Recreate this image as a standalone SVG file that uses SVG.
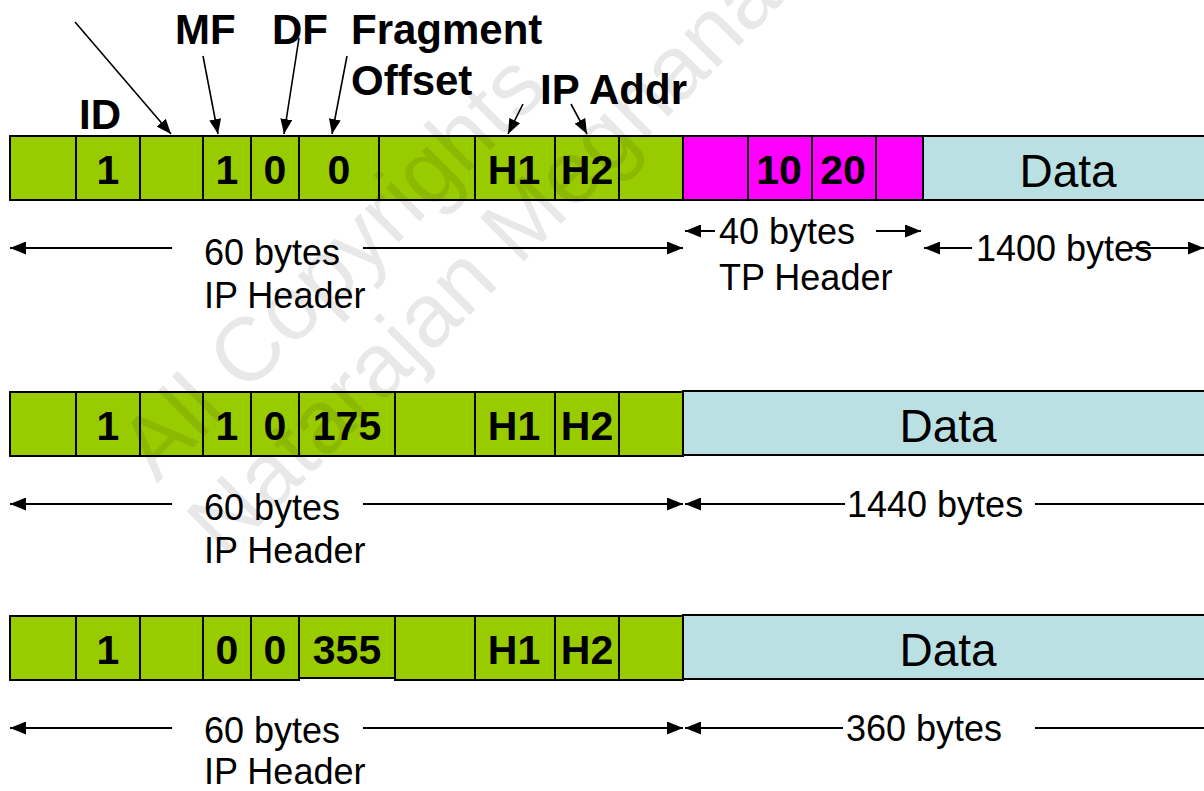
<svg xmlns="http://www.w3.org/2000/svg" width="1204" height="791" viewBox="0 0 1204 791">
  <defs>
    <style>
      .cell { stroke: #000; stroke-width: 2; }
      .g { fill: #99cc00; }
      .m { fill: #ff00ff; }
      .d { fill: #bbe0e3; }
      .v { font-family: "Liberation Sans", Arial, sans-serif; font-weight: bold; font-size: 41px; fill: #000; text-anchor: middle; }
      .lbl { font-family: "Liberation Sans", Arial, sans-serif; font-weight: bold; font-size: 42px; fill: #000; }
      .dim { font-family: "Liberation Sans", Arial, sans-serif; font-size: 36px; fill: #000; }
      .data { font-family: "Liberation Sans", Arial, sans-serif; font-size: 46px; fill: #000; text-anchor: middle; }
      .ptr { stroke: #000; stroke-width: 1.6; fill: none; marker-end: url(#head); }
      .dl { stroke: #000; stroke-width: 2; fill: none; }
      .da { stroke: #000; stroke-width: 2; fill: none; marker-end: url(#dhead); }
      .wm { font-family: "Liberation Sans", Arial, sans-serif; font-size: 90px; fill: #000; fill-opacity: 0.09; }
    </style>
    <marker id="head" markerUnits="userSpaceOnUse" viewBox="0 0 15 12" markerWidth="15" markerHeight="12" refX="15" refY="6" orient="auto">
      <path d="M0,0 L15,6 L0,12 z" fill="#000"/>
    </marker>
    <marker id="dhead" markerUnits="userSpaceOnUse" viewBox="0 0 16 13" markerWidth="16" markerHeight="13" refX="16" refY="6.5" orient="auto">
      <path d="M0,0 L16,6.5 L0,13 z" fill="#000"/>
    </marker>
  </defs>

  <rect width="1204" height="791" fill="#fff"/>

  <!-- field labels above the first packet -->
  <g id="labels">
    <text class="lbl" x="79" y="129">ID</text>
    <text class="lbl" x="175" y="44">MF</text>
    <text class="lbl" x="272" y="44">DF</text>
    <text class="lbl" x="351" y="44">Fragment</text>
    <text class="lbl" x="351" y="95">Offset</text>
    <text class="lbl" x="540" y="104">IP Addr</text>
  </g>

  <!-- packet 1: IP header + TP header + data -->
  <g id="packet1">
    <rect class="cell g" x="10" y="136" width="66" height="64"/>
    <rect class="cell g" x="76" y="136" width="64" height="64"/>
    <rect class="cell g" x="140" y="136" width="63" height="64"/>
    <rect class="cell g" x="203" y="136" width="48" height="64"/>
    <rect class="cell g" x="251" y="136" width="48" height="64"/>
    <rect class="cell g" x="299" y="136" width="80" height="64"/>
    <rect class="cell g" x="379" y="136" width="96" height="64"/>
    <rect class="cell g" x="475" y="136" width="80" height="64"/>
    <rect class="cell g" x="555" y="136" width="64" height="64"/>
    <rect class="cell g" x="619" y="136" width="64" height="64"/>
    <rect class="cell m" x="683" y="136" width="65" height="64"/>
    <rect class="cell m" x="748" y="136" width="64" height="64"/>
    <rect class="cell m" x="812" y="136" width="64" height="64"/>
    <rect class="cell m" x="876" y="136" width="47" height="64"/>
    <rect class="cell d" x="923" y="136" width="300" height="64"/>
    <text class="v" x="108" y="184">1</text>
    <text class="v" x="227" y="184">1</text>
    <text class="v" x="275" y="184">0</text>
    <text class="v" x="339" y="184">0</text>
    <text class="v" x="514" y="184">H1</text>
    <text class="v" x="587" y="184">H2</text>
    <text class="v" x="779" y="184">10</text>
    <text class="v" x="843" y="184">20</text>
    <text class="data" x="1068" y="187">Data</text>
  </g>

  <!-- packet 2: first fragment -->
  <g id="packet2">
    <rect class="cell g" x="10" y="392" width="66" height="64"/>
    <rect class="cell g" x="76" y="392" width="64" height="64"/>
    <rect class="cell g" x="140" y="392" width="63" height="64"/>
    <rect class="cell g" x="203" y="392" width="48" height="64"/>
    <rect class="cell g" x="251" y="392" width="48" height="64"/>
    <rect class="cell g" x="299" y="392" width="96" height="64"/>
    <rect class="cell g" x="395" y="392" width="80" height="64"/>
    <rect class="cell g" x="475" y="392" width="80" height="64"/>
    <rect class="cell g" x="555" y="392" width="64" height="64"/>
    <rect class="cell g" x="619" y="392" width="64" height="64"/>
    <rect class="cell d" x="683" y="391" width="540" height="64"/>
    <text class="v" x="108" y="440">1</text>
    <text class="v" x="227" y="440">1</text>
    <text class="v" x="275" y="440">0</text>
    <text class="v" x="347" y="440">175</text>
    <text class="v" x="514" y="440">H1</text>
    <text class="v" x="587" y="440">H2</text>
    <text class="data" x="948" y="442">Data</text>
  </g>

  <!-- packet 3: last fragment -->
  <g id="packet3">
    <rect class="cell g" x="10" y="616" width="66" height="64"/>
    <rect class="cell g" x="76" y="616" width="64" height="64"/>
    <rect class="cell g" x="140" y="616" width="63" height="64"/>
    <rect class="cell g" x="203" y="616" width="48" height="64"/>
    <rect class="cell g" x="251" y="616" width="48" height="64"/>
    <rect class="cell g" x="299" y="616" width="96" height="62"/>
    <rect class="cell g" x="395" y="616" width="80" height="64"/>
    <rect class="cell g" x="475" y="616" width="80" height="64"/>
    <rect class="cell g" x="555" y="616" width="64" height="64"/>
    <rect class="cell g" x="619" y="616" width="64" height="64"/>
    <rect class="cell d" x="683" y="615" width="540" height="64"/>
    <text class="v" x="108" y="664">1</text>
    <text class="v" x="227" y="664">0</text>
    <text class="v" x="275" y="664">0</text>
    <text class="v" x="347" y="664">355</text>
    <text class="v" x="514" y="664">H1</text>
    <text class="v" x="587" y="664">H2</text>
    <text class="data" x="948" y="666">Data</text>
  </g>

  <!-- size captions -->
  <g id="sizes">
    <text class="dim" x="204" y="265">60 bytes</text>
    <text class="dim" x="204" y="308">IP Header</text>
    <text class="dim" x="719" y="244">40 bytes</text>
    <text class="dim" x="719" y="290">TP Header</text>
    <text class="dim" x="976" y="261">1400 bytes</text>
    <text class="dim" x="204" y="520">60 bytes</text>
    <text class="dim" x="204" y="563">IP Header</text>
    <text class="dim" x="847" y="517">1440 bytes</text>
    <text class="dim" x="204" y="743">60 bytes</text>
    <text class="dim" x="204" y="784">IP Header</text>
    <text class="dim" x="846" y="741">360 bytes</text>
  </g>

  <!-- connectors: field pointers and size extents -->
  <g id="connectors">
    <line class="ptr" x1="75" y1="22" x2="171" y2="134"/>
    <line class="ptr" x1="203" y1="56" x2="218" y2="134"/>
    <line class="ptr" x1="299" y1="38" x2="284" y2="134"/>
    <line class="ptr" x1="347" y1="56" x2="332" y2="134"/>
    <line class="ptr" x1="523" y1="104" x2="508" y2="134"/>
    <line class="ptr" x1="571" y1="104" x2="587" y2="134"/>

    <line class="da" x1="172" y1="248" x2="10" y2="248"/>
    <line class="da" x1="363" y1="248" x2="683" y2="248"/>
    <line class="da" x1="715" y1="231" x2="685" y2="231"/>
    <line class="da" x1="876" y1="231" x2="921" y2="231"/>
    <line class="da" x1="972" y1="248" x2="924" y2="248"/>
    <line class="da" x1="1130" y1="248" x2="1204" y2="248"/>

    <line class="da" x1="172" y1="504" x2="10" y2="504"/>
    <line class="da" x1="363" y1="504" x2="683" y2="504"/>
    <line class="da" x1="845" y1="504" x2="685" y2="504"/>
    <line class="dl" x1="1035" y1="504" x2="1204" y2="504"/>

    <line class="da" x1="172" y1="728" x2="10" y2="728"/>
    <line class="da" x1="363" y1="728" x2="683" y2="728"/>
    <line class="da" x1="843" y1="728" x2="685" y2="728"/>
    <line class="dl" x1="1035" y1="728" x2="1204" y2="728"/>
  </g>

  <!-- copyright watermark -->
  <g id="watermark" transform="translate(225,560) rotate(-45)">
    <text class="wm" x="6" y="-102">All Copyrights</text>
    <text class="wm" x="0" y="0">Natarajan Meghanathan</text>
  </g>
</svg>
